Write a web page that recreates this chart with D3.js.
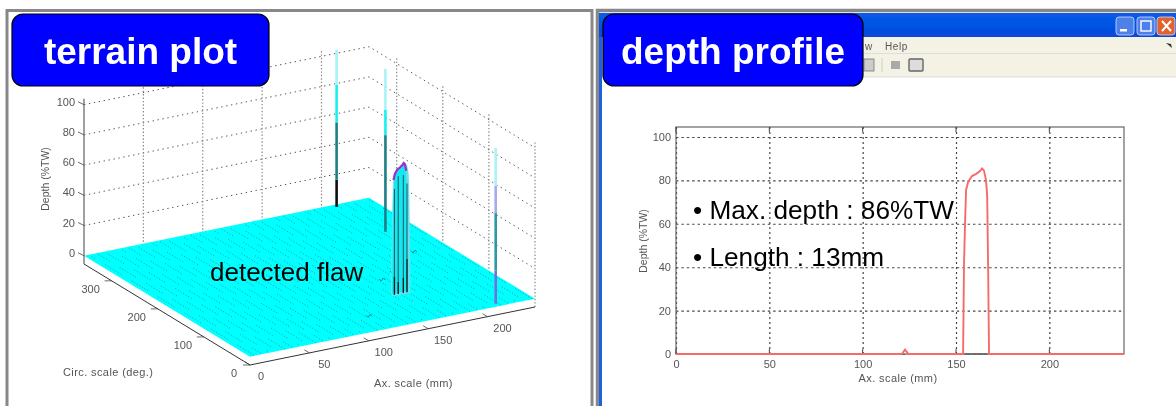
<!DOCTYPE html>
<html>
<head>
<meta charset="utf-8">
<script src="https://cdn.jsdelivr.net/npm/d3@7"></script>
<style>
html, body { margin: 0; padding: 0; background: #fff; }
svg { display: block; font-family: "Liberation Sans", Arial, sans-serif; }
.tick-label { font-size: 11px; fill: #555; }
.axis-title { font-size: 11px; fill: #555; letter-spacing: 0.4px; }
.axis-title.depth { font-size: 10.5px; letter-spacing: 0; }
</style>
</head>
<body>
<svg width="1176" height="406"></svg>
<script>
// depth profile
const profileAx = [0, 121, 122.7, 124.5, 153.8, 154.3, 154.9, 155.4, 156.5, 158.6, 160.8, 162.9, 164, 165, 166.1, 166.7, 167.2, 167.7, 240]
const profileDepth = [0, 0, 2, 0, 0, 41.9, 61.7, 75.6, 79.3, 82, 83, 84.3, 85.5, 84.5, 80, 73, 41, 0, 0]

const depthTicks = [0, 20, 40, 60, 80, 100]
const axTicks3d = [0, 50, 100, 150, 200]
const circTicks3d = [0, 100, 200, 300]
const axTicks = [0, 50, 100, 150, 200]

// terrain plot spikes: position and colour bands from the base up
const spikeAx = [210, 215, 210]
const spikeCirc = [353, 260, 8]
const spikeBands = [
    [[0, 18, '#111'], [18, 56, '#1f7f86'], [56, 81, '#19f0f0'], [81, 104, '#a8f4f4']],
    [[0, 64, '#1f7f86'], [64, 81, '#19f0f0'], [81, 108, '#a8f4f4']],
    [[0, 22, '#6f6fe0'], [22, 60, '#2a9aa6'], [60, 78, '#a9a9f0'], [78, 103, '#a8f4f4']]
]

// small indications on the plate
const speckAx = [117, 163, 178, 212]
const speckCirc = [43, 133, 148, 190]

const svg = d3.select('svg')

const defs = svg.append('defs')
defs.append('filter').attr('id', 'soft')
    .append('feGaussianBlur').attr('stdDeviation', 0.45)
const bar = defs.append('linearGradient').attr('id', 'titlebar').attr('x1', 0).attr('x2', 0).attr('y1', 0).attr('y2', 1)
bar.append('stop').attr('offset', 0).attr('stop-color', '#0a5ae8')
bar.append('stop').attr('offset', 0.5).attr('stop-color', '#0054e3')
bar.append('stop').attr('offset', 1).attr('stop-color', '#0a46d8')

// panel frames
const frames = svg.append('g')
frames.append('path').attr('d', 'M7 406V10.5H592V406').attr('fill', 'none').attr('stroke', '#888').attr('stroke-width', 3)
frames.append('path').attr('d', 'M597.5 406V10.5H1176').attr('fill', 'none').attr('stroke', '#888').attr('stroke-width', 3.5)

// ---- terrain plot ----
const origin = { x: 250, y: 365 }
const zFloor = -5.5
const axX = d3.scaleLinear().domain([0, 240]).range([0, 285])
const axY = d3.scaleLinear().domain([0, 240]).range([0, -58])
const circX = d3.scaleLinear().domain([0, 360]).range([0, -166])
const circY = d3.scaleLinear().domain([0, 360]).range([0, -101])
const zY = d3.scaleLinear().domain([zFloor, 100]).range([0, -159.3])

const project = (ax, circ, z) => [
    origin.x + axX(ax) + circX(circ),
    origin.y + axY(ax) + circY(circ) + zY(z)
]
const line3d = d3.line()

const terrain = svg.append('g').attr('filter', 'url(#soft)')

const drawLine = (pts, stroke, width, dash) => terrain.append('path')
    .attr('d', line3d(pts))
    .attr('fill', 'none')
    .attr('stroke', stroke)
    .attr('stroke-width', width)
    .attr('stroke-dasharray', dash)

const gridDash = '1.4 3.6'
const zTop = 104

// walls
depthTicks.slice(1).forEach(z => {
    drawLine([project(0, 360, z), project(240, 360, z), project(240, 0, z)], '#555', 1, gridDash)
})
axTicks3d.slice(1).forEach(ax => {
    drawLine([project(ax, 360, zFloor), project(ax, 360, zTop)], '#888', 1.2, '1.4 2')
})
circTicks3d.forEach(circ => {
    drawLine([project(240, circ, zFloor), project(240, circ, zTop)], '#888', 1.2, '1.4 2')
})

// plate, mesh shows as patches of dots
const corners = [[0, 0], [240, 0], [240, 360], [0, 360]]
terrain.append('path')
    .attr('d', line3d(corners.map(c => project(c[0], c[1], 0))) + 'Z')
    .attr('fill', '#0ff')
const meshDash = '1 2 1 2 1 2 1 2 1 2 1 2 1 12'
d3.range(4, 240, 6.5).forEach((ax, i) => {
    drawLine([project(ax, 2, 0), project(ax, 358, 0)], '#128c96', 0.8, meshDash)
        .attr('stroke-dashoffset', (i % 4) * 8)
})

// floor axes
drawLine([project(0, 360, zFloor), project(0, 0, zFloor), project(240, 0, zFloor)], '#333', 1)
terrain.append('line')
    .attr('x1', project(0, 360, zFloor)[0]).attr('x2', project(0, 360, zFloor)[0])
    .attr('y1', project(0, 360, zTop)[1]).attr('y2', project(0, 360, zFloor)[1])
    .attr('stroke', '#777').attr('stroke-width', 1.4)

depthTicks.forEach(z => {
    const [x, y] = project(0, 360, z)
    drawLine([[x - 6, y - 3], [x, y]], '#444', 0.8)
    terrain.append('text').attr('class', 'tick-label')
        .attr('x', x - 9).attr('y', y).attr('dy', '0.1em')
        .attr('text-anchor', 'end').text(z)
})
axTicks3d.forEach(ax => {
    const [x, y] = project(ax, 0, zFloor)
    drawLine([[x, y], [x - 5, y - 3]], '#444', 0.8)
    terrain.append('text').attr('class', 'tick-label')
        .attr('x', x + (ax === 0 ? 11 : 15)).attr('y', y + 15)
        .attr('text-anchor', 'middle').text(ax)
})
circTicks3d.forEach(circ => {
    const [x, y] = project(0, circ, zFloor)
    drawLine([[x, y], [x - 7, y]], '#444', 0.8)
    terrain.append('text').attr('class', 'tick-label')
        .attr('x', x - (circ === 0 ? 16 : 21)).attr('y', y + 12)
        .attr('text-anchor', 'middle').text(circ)
})
terrain.append('text').attr('class', 'axis-title')
    .attr('x', 63).attr('y', 376).text('Circ. scale (deg.)')
terrain.append('text').attr('class', 'axis-title')
    .attr('x', 374).attr('y', 387).text('Ax. scale (mm)')
terrain.append('text').attr('class', 'axis-title depth')
    .attr('transform', 'translate(49,179) rotate(-90)')
    .attr('text-anchor', 'middle').text('Depth (%TW)')

// spikes
spikeBands.forEach((bands, i) => {
    bands.forEach(b => {
        drawLine([project(spikeAx[i], spikeCirc[i], b[0]), project(spikeAx[i], spikeCirc[i], b[1])], b[2], 2.6)
    })
})

// small indications
speckAx.forEach((ax, i) => {
    const [x, y] = project(ax, speckCirc[i], 0)
    drawLine([[x - 3, y - 1], [x - 1, y + 1], [x + 1, y - 2], [x + 3, y]], '#0b6f76', 0.8)
})

// flaw: the depth profile extruded a few degrees around the circumference
const flawIdx = d3.range(4, 18)
const flawCircs = [85, 87, 89]
flawCircs.forEach(circ => {
    const pts = flawIdx.map(i => project(profileAx[i], circ, profileDepth[i]))
    terrain.append('path').attr('d', line3d(pts) + 'Z').attr('fill', '#16e6ee').attr('stroke', '#8fd8e8').attr('stroke-width', 0.8)
})
const flawLineAx = [155.4, 158.6, 162.9, 166]
const flawLineDepth = [70, 78, 78, 72]
const flawLineBase = [12, 8, 10, 22]
flawLineAx.forEach((ax, i) => {
    drawLine([project(ax, 87, flawLineBase[i]), project(ax, 87, flawLineDepth[i])], '#0c5a66', 1)
    drawLine([project(ax, 87, 0), project(ax, 87, flawLineBase[i])], '#0a1a1e', 1.4)
})
const cap = flawIdx.filter(i => profileDepth[i] > 74)
drawLine(cap.map(i => project(profileAx[i], 89, profileDepth[i])), '#9a2fd0', 2.2)

terrain.append('text')
    .attr('x', 210).attr('y', 281)
    .attr('font-size', 26).attr('fill', '#000')
    .text('detected flaw')

// ---- depth profile window ----
const chrome = svg.append('g').attr('filter', 'url(#soft)')
chrome.append('rect').attr('x', 599).attr('y', 13).attr('width', 3).attr('height', 393).attr('fill', '#1e62e0')
chrome.append('rect').attr('x', 599).attr('y', 13).attr('width', 577).attr('height', 24).attr('fill', 'url(#titlebar)')
chrome.append('rect').attr('x', 602).attr('y', 37).attr('width', 574).attr('height', 16).attr('fill', '#f4f2e4')
chrome.append('rect').attr('x', 602).attr('y', 54).attr('width', 574).attr('height', 23).attr('fill', '#f4f2e4')
chrome.append('line').attr('x1', 602).attr('x2', 1176).attr('y1', 53.5).attr('y2', 53.5).attr('stroke', '#ddd')
chrome.append('line').attr('x1', 602).attr('x2', 1176).attr('y1', 77).attr('y2', 77).attr('stroke', '#ddd')

const buttonX = [1116, 1137, 1157]
const buttonFill = ['#4f7fe8', '#4f7fe8', '#e2622f']
buttonX.forEach((x, i) => {
    chrome.append('rect').attr('x', x).attr('y', 17).attr('width', 18).attr('height', 18).attr('rx', 3)
        .attr('fill', buttonFill[i]).attr('stroke', '#cfe0fa').attr('stroke-width', 0.8)
})
chrome.append('rect').attr('x', 1120).attr('y', 29).attr('width', 7).attr('height', 2.5).attr('fill', '#fff')
chrome.append('rect').attr('x', 1141).attr('y', 21).attr('width', 10).attr('height', 10).attr('fill', 'none').attr('stroke', '#fff').attr('stroke-width', 1.4)
chrome.append('path').attr('d', 'M1162 21L1171 31M1171 21L1162 31').attr('stroke', '#fff').attr('stroke-width', 2)

chrome.append('text').attr('x', 885).attr('y', 50).attr('font-size', 10).attr('fill', '#555').attr('letter-spacing', 0.6).text('Help')
chrome.append('text').attr('x', 865).attr('y', 50).attr('font-size', 10).attr('fill', '#555').text('w')
chrome.append('path').attr('d', 'M1166 43l5 1l1 4z').attr('fill', '#333')
chrome.append('rect').attr('x', 891).attr('y', 61).attr('width', 9).attr('height', 8).attr('fill', '#aaa')
chrome.append('rect').attr('x', 909).attr('y', 59).attr('width', 14).attr('height', 12).attr('rx', 1).attr('fill', '#ddd').attr('stroke', '#666').attr('stroke-width', 1.4)
chrome.append('rect').attr('x', 864).attr('y', 59).attr('width', 10).attr('height', 12).attr('fill', '#ccc').attr('stroke', '#777').attr('stroke-width', 0.8)
chrome.append('line').attr('x1', 882).attr('x2', 882).attr('y1', 58).attr('y2', 72).attr('stroke', '#ccc')

const plot = { left: 676, right: 1124, top: 127, bottom: 354 }
const x = d3.scaleLinear().domain([0, 240]).range([plot.left, plot.right])
const y = d3.scaleLinear().domain([0, 104.6]).range([plot.bottom, plot.top])

const chart = svg.append('g').attr('filter', 'url(#soft)')

const styleAxis = g => {
    g.select('.domain').remove()
    g.selectAll('line').attr('stroke', '#444')
    g.selectAll('text').attr('class', 'tick-label').style('font-family', 'inherit').style('font-size', '11px')
}

chart.append('g').attr('transform', `translate(0,${plot.bottom})`)
    .call(d3.axisBottom(x).tickValues(axTicks).tickSize(-(plot.bottom - plot.top)).tickPadding(6))
    .call(styleAxis)
    .call(g => g.selectAll('line').attr('stroke', '#444').attr('stroke-dasharray', '2 3').attr('stroke-width', 1.2))
chart.append('g').attr('transform', `translate(${plot.left},0)`)
    .call(d3.axisLeft(y).tickValues(depthTicks).tickSize(-(plot.right - plot.left)).tickPadding(5))
    .call(styleAxis)
    .call(g => g.selectAll('line').attr('stroke', '#444').attr('stroke-dasharray', '2.4 3').attr('stroke-width', 1.1))

chart.append('rect')
    .attr('x', plot.left).attr('y', plot.top)
    .attr('width', plot.right - plot.left).attr('height', plot.bottom - plot.top)
    .attr('fill', 'none').attr('stroke', '#666').attr('stroke-width', 1.2)

// inner tick marks on the box
axTicks.forEach(t => {
    chart.append('line').attr('x1', x(t)).attr('x2', x(t)).attr('y1', plot.top).attr('y2', plot.top + 5).attr('stroke', '#444')
    chart.append('line').attr('x1', x(t)).attr('x2', x(t)).attr('y1', plot.bottom).attr('y2', plot.bottom - 5).attr('stroke', '#444')
})

const profileLine = d3.line()
    .x((d, i) => x(profileAx[i]))
    .y(d => y(d))
chart.append('path')
    .datum(profileDepth)
    .attr('d', profileLine)
    .attr('fill', 'none')
    .attr('stroke', '#f76a6a')
    .attr('stroke-width', 1.9)
chart.append('line').attr('x1', x(154.5)).attr('x2', x(167)).attr('y1', y(0)).attr('y2', y(0)).attr('stroke', '#666').attr('stroke-width', 1.6)

chart.append('text').attr('class', 'axis-title')
    .attr('x', 898).attr('y', 382).attr('text-anchor', 'middle').text('Ax. scale (mm)')
chart.append('text').attr('class', 'axis-title depth')
    .attr('transform', 'translate(647,241) rotate(-90)')
    .attr('text-anchor', 'middle').text('Depth (%TW)')

const notes = ['\u2022 Max. depth : 86%TW', '\u2022 Length : 13mm']
const noteY = [219, 266]
svg.append('g').selectAll('text').data(notes).join('text')
    .attr('x', 693).attr('y', (d, i) => noteY[i])
    .attr('font-size', 26.2).attr('fill', '#000')
    .text(d => d)

// title badges
const badgeText = ['terrain plot', 'depth profile']
const badgeX = [12, 603]
const badgeW = [257, 260]
const badges = svg.append('g').selectAll('g').data(badgeText).join('g')
badges.append('rect')
    .attr('x', (d, i) => badgeX[i]).attr('y', 14)
    .attr('width', (d, i) => badgeW[i]).attr('height', 72).attr('rx', 11)
    .attr('fill', '#00f').attr('stroke', '#000').attr('stroke-width', 1.2)
badges.append('text')
    .attr('x', (d, i) => badgeX[i] + badgeW[i] / 2).attr('y', 64)
    .attr('text-anchor', 'middle')
    .attr('font-size', 37).attr('font-weight', 'bold').attr('fill', '#fff')
    .text(d => d)
</script>
</body>
</html>
